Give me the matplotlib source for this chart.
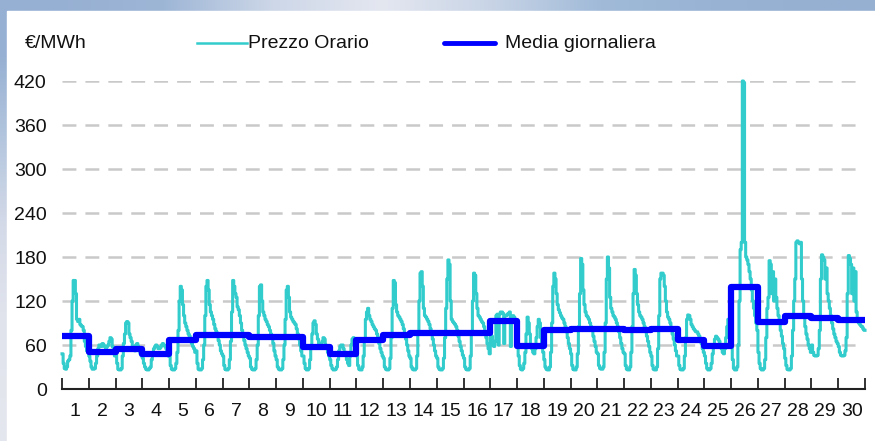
import numpy as np
import matplotlib
matplotlib.use("Agg")
import matplotlib.pyplot as plt
from matplotlib.lines import Line2D

plt.rcParams['font.family'] = ['Liberation Sans', 'DejaVu Sans']
plt.rcParams['lines.scale_dashes'] = False

# hourly price, one row of 24 hours per day
prezzo_orario = [
    [48, 35, 28, 27, 30, 38, 40, 45, 80, 120, 148, 148, 130, 95, 92, 95, 88, 86, 85, 80, 65, 58, 52, 50],
    [45, 38, 30, 27, 27, 28, 35, 45, 55, 60, 60, 58, 62, 60, 58, 55, 58, 60, 65, 70, 68, 58, 50, 45],
    [48, 35, 27, 26, 26, 28, 45, 62, 75, 90, 92, 90, 75, 70, 65, 58, 55, 52, 60, 62, 58, 52, 48, 45],
    [42, 35, 30, 27, 26, 26, 28, 30, 40, 50, 55, 58, 60, 58, 55, 55, 57, 60, 62, 60, 58, 55, 50, 45],
    [48, 32, 27, 26, 26, 28, 35, 50, 80, 120, 140, 135, 115, 100, 90, 85, 80, 75, 72, 68, 62, 58, 55, 50],
    [52, 35, 27, 26, 26, 28, 40, 60, 100, 140, 148, 135, 115, 105, 100, 95, 88, 82, 78, 72, 66, 60, 52, 48],
    [45, 32, 27, 26, 26, 28, 40, 65, 105, 148, 140, 130, 125, 112, 108, 100, 90, 80, 72, 66, 60, 55, 50, 45],
    [42, 30, 27, 26, 26, 28, 40, 60, 100, 140, 142, 120, 105, 100, 95, 92, 88, 85, 80, 75, 70, 62, 52, 45],
    [40, 30, 27, 26, 26, 28, 40, 60, 95, 135, 140, 125, 105, 98, 95, 92, 90, 88, 82, 75, 68, 60, 52, 45],
    [45, 35, 28, 26, 26, 28, 40, 55, 75, 90, 93, 88, 75, 68, 62, 58, 60, 65, 70, 68, 60, 55, 50, 45],
    [40, 32, 28, 26, 26, 27, 30, 40, 52, 58, 60, 60, 55, 50, 50, 40, 35, 32, 45, 60, 68, 70, 65, 55],
    [45, 32, 27, 26, 26, 30, 45, 65, 95, 105, 110, 100, 95, 92, 88, 85, 82, 80, 75, 70, 62, 55, 50, 45],
    [42, 30, 27, 26, 26, 28, 42, 70, 110, 148, 145, 115, 105, 100, 98, 95, 92, 88, 82, 75, 68, 60, 52, 45],
    [42, 30, 27, 26, 26, 28, 45, 75, 120, 158, 160, 140, 110, 100, 98, 95, 92, 88, 82, 75, 68, 60, 52, 45],
    [42, 30, 27, 26, 26, 28, 42, 70, 110, 150, 176, 170, 120, 95, 92, 90, 88, 85, 80, 72, 65, 58, 52, 46],
    [42, 30, 27, 26, 26, 28, 45, 75, 120, 158, 155, 130, 110, 100, 98, 95, 92, 90, 85, 78, 70, 62, 55, 48],
    [80, 72, 60, 58, 65, 100, 102, 60, 102, 105, 105, 103, 62, 100, 100, 102, 103, 105, 58, 100, 100, 98, 95, 90],
    [60, 45, 32, 27, 26, 28, 35, 50, 75, 98, 90, 75, 60, 55, 50, 48, 55, 70, 85, 95, 90, 70, 60, 50],
    [40, 30, 27, 26, 26, 30, 50, 90, 140, 158, 150, 130, 115, 108, 104, 100, 97, 95, 90, 85, 78, 70, 62, 55],
    [48, 32, 27, 26, 26, 30, 48, 85, 130, 178, 170, 135, 115, 105, 100, 98, 95, 90, 85, 80, 72, 65, 58, 50],
    [48, 32, 28, 27, 27, 30, 50, 90, 150, 180, 165, 125, 110, 105, 100, 98, 95, 90, 85, 78, 70, 62, 55, 50],
    [48, 32, 27, 26, 26, 30, 50, 85, 130, 163, 155, 130, 115, 105, 100, 98, 95, 90, 85, 78, 72, 65, 58, 50],
    [45, 32, 27, 26, 26, 30, 55, 100, 150, 158, 158, 155, 140, 120, 105, 98, 95, 90, 82, 75, 68, 60, 52, 45],
    [45, 32, 27, 26, 26, 28, 45, 70, 95, 101, 100, 95, 88, 85, 82, 80, 78, 78, 75, 72, 68, 62, 55, 50],
    [45, 35, 28, 26, 26, 28, 35, 48, 60, 68, 72, 70, 68, 65, 60, 55, 50, 48, 55, 70, 85, 95, 90, 80],
    [60, 40, 28, 26, 26, 30, 60, 120, 190, 200, 420, 418, 200, 180, 176, 170, 160, 150, 135, 120, 110, 100, 90, 80],
    [50, 35, 28, 26, 26, 28, 40, 70, 110, 125, 175, 170, 130, 160, 120, 150, 125, 110, 100, 90, 80, 72, 62, 55],
    [42, 32, 27, 26, 26, 28, 45, 80, 120, 150, 200, 202, 200, 198, 200, 150, 120, 100, 85, 75, 68, 60, 55, 50],
    [60, 50, 46, 45, 45, 46, 55, 80, 150, 183, 180, 176, 150, 165, 130, 120, 110, 100, 90, 82, 75, 70, 65, 62],
    [58, 50, 46, 45, 45, 46, 52, 70, 130, 182, 178, 170, 130, 165, 120, 160, 105, 95, 90, 88, 86, 85, 82, 80],
]

# daily average
media_giornaliera = [72, 51, 55, 47.5, 67.5, 73, 73, 70.5, 70.5, 57.5,
                     47.5, 67, 73, 76, 76, 76.5, 93, 58.5, 80.5, 81.5,
                     81.5, 80.5, 81.5, 67, 59, 139.5, 92, 100, 96.5, 94.5]

giorni = [str(d) for d in range(1, 31)]
y_ticks = [0, 60, 120, 180, 240, 300, 360, 420]

W, H = 875, 441
fig = plt.figure(figsize=(W / 100, H / 100), dpi=100)

# bluish frame on top and left
bg = fig.add_axes([0, 0, 1, 1])
bg.axis('off')
bg.set_xlim(0, W)
bg.set_ylim(H, 0)
top_cols = np.array([[150, 176, 211], [158, 182, 214], [205, 215, 232], [228, 231, 240],
                     [200, 212, 230], [160, 186, 216], [152, 179, 212], [150, 176, 210]]) / 255
bg.imshow(top_cols[None, :, :], extent=(0, W, 11, 0), aspect='auto', interpolation='bilinear')
left_cols = np.array([[150, 176, 211], [180, 198, 222], [212, 218, 232], [224, 227, 236], [228, 230, 238]]) / 255
bg.imshow(left_cols[:, None, :], extent=(0, 7, H, 11), aspect='auto', interpolation='bilinear')
bg.add_patch(plt.Rectangle((7, 11), W - 7, H - 11, color='white'))

ax = fig.add_axes([62 / W, (H - 389) / H, 803 / W, 308 / H])
ax.set_facecolor('none')
ax.set_xlim(0, 720)
ax.set_ylim(0, 420)

for v in y_ticks[1:]:
    ax.axhline(v, xmin=0, xmax=(858 - 62) / 803, color='#c9c9c9', lw=1.8, dashes=(10, 6.5), zorder=1)

hourly = np.concatenate([np.array(d, dtype=float) for d in prezzo_orario])
hx = np.arange(len(hourly) + 1)
ax.plot(hx, np.append(hourly, hourly[-1]), color='#33CCCC', lw=2.2,
        drawstyle='steps-post', zorder=2, clip_on=False)

dx = np.arange(0, 24 * len(media_giornaliera) + 1, 24)
ax.plot(dx, media_giornaliera + [media_giornaliera[-1]], color='#0000FF', lw=4.5,
        drawstyle='steps-post', zorder=3, solid_capstyle='butt')

for s in ['top', 'right', 'left']:
    ax.spines[s].set_visible(False)
ax.spines['bottom'].set_linewidth(1.5)
ax.spines['bottom'].set_color('#222222')

ax.set_xticks(np.arange(0, 721, 24))
ax.set_xticklabels([])
ax.tick_params(axis='x', which='major', direction='in', length=8, width=1.3, color='#222222')
ax.set_xticks(np.arange(12, 720, 24), minor=True)
ax.set_xticklabels(giorni, minor=True)
ax.tick_params(axis='x', which='minor', length=0, pad=10, labelsize=14, labelcolor='#111111')

ax.set_yticks(y_ticks)
ax.set_yticklabels([str(v) for v in y_ticks])
ax.tick_params(axis='y', length=0, pad=11, labelsize=14, labelcolor='#111111')

# legend and unit label at the top
def fx(px):
    return px / W

def fy(py):
    return 1 - py / H

fig.text(fx(25), fy(44), '€/MWh', fontsize=14, color='#111111', va='center', ha='left')
fig.add_artist(Line2D([fx(197), fx(247)], [fy(43), fy(43)], color='#33CCCC', lw=1.8))
fig.text(fx(248), fy(44), 'Prezzo Orario', fontsize=14, color='#111111', va='center', ha='left')
fig.add_artist(Line2D([fx(444), fx(495)], [fy(43), fy(43)], color='#0000FF', lw=3.5,
                      solid_capstyle='round'))
fig.text(fx(505), fy(44), 'Media giornaliera', fontsize=14, color='#111111', va='center', ha='left')

fig.savefig('out.png', dpi=100)
